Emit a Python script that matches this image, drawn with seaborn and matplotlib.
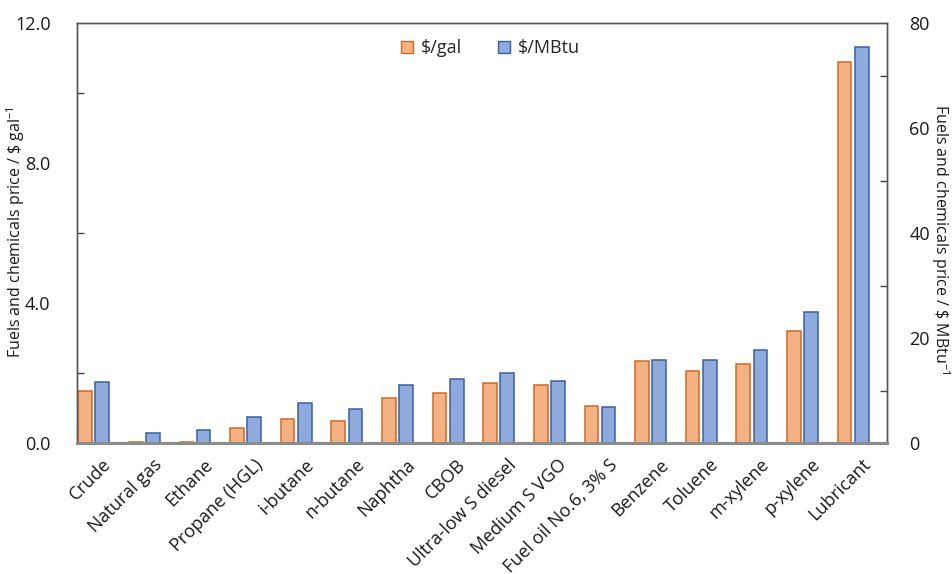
import numpy as np
import pandas as pd
import matplotlib
matplotlib.use("Agg")
import matplotlib.pyplot as plt
from matplotlib.patches import Patch
from matplotlib.ticker import MultipleLocator, FixedLocator
import seaborn as sns

# Product categories and their prices
categories = ["Crude", "Natural gas", "Ethane", "Propane (HGL)", "i-butane",
              "n-butane", "Naphtha", "CBOB", "Ultra-low S diesel",
              "Medium S VGO", "Fuel oil No.6, 3% S", "Benzene", "Toluene",
              "m-xylene", "p-xylene", "Lubricant"]
price_gal = [1.50, 0.03, 0.03, 0.43, 0.69, 0.62, 1.29, 1.43, 1.71, 1.67,
             1.07, 2.34, 2.06, 2.26, 3.20, 10.89]
price_mbtu = [11.6, 1.9, 2.5, 4.9, 7.6, 6.5, 11.0, 12.2, 13.3, 11.9,
              6.9, 15.9, 15.9, 17.7, 25.0, 75.4]
series_names = ["$/gal", "$/MBtu"]

sns.set_style("white")
plt.rcParams["font.family"] = ["Open Sans", "DejaVu Sans"]
plt.rcParams["mathtext.default"] = "regular"

ORANGE, ORANGE_EDGE = "#F4B183", "#D2691E"
BLUE, BLUE_EDGE = "#8FAADC", "#3A5FA6"
TEXT = "#1a1a1a"
BAR_W = 0.27
SHIFT = 0.34

idx = np.arange(len(categories))
df = pd.DataFrame({"category": categories, "pos": idx,
                   "gal": price_gal, "mbtu": price_mbtu})
df["pos_gal"] = df["pos"] - SHIFT

fig = plt.figure(figsize=(9.52, 5.74), dpi=100)
ax1 = fig.add_axes([77 / 952, 1 - 443 / 574, 810 / 952, 420 / 574])
ax2 = ax1.twinx()

sns.barplot(data=df, x="pos_gal", y="gal", native_scale=True, width=BAR_W,
            color=ORANGE, edgecolor=ORANGE_EDGE, linewidth=1.1,
            saturation=1, errorbar=None, ax=ax1)
sns.barplot(data=df, x="pos", y="mbtu", native_scale=True, width=BAR_W,
            color=BLUE, edgecolor=BLUE_EDGE, linewidth=1.1,
            saturation=1, errorbar=None, ax=ax2)

ax1.set_xlim(-0.5, len(categories) - 0.5)
ax1.set_ylim(0, 12)
ax2.set_ylim(0, 80)

# Left axis: labels every 4, inward marks halfway between
ax1.yaxis.set_major_locator(MultipleLocator(4))
ax1.yaxis.set_minor_locator(FixedLocator([2, 6, 10]))
ax1.set_yticklabels([f"{v:.1f}" for v in ax1.get_yticks()])
ax1.tick_params(axis="y", which="major", length=0, pad=19, labelsize=13,
                labelcolor=TEXT)
ax1.tick_params(axis="y", which="minor", direction="in", length=5,
                width=1, color="#444444", left=True)

# Right axis: labels every 20, inward marks between
ax2.yaxis.set_major_locator(MultipleLocator(20))
ax2.yaxis.set_minor_locator(FixedLocator([10, 30, 50, 70]))
ax2.tick_params(axis="y", which="major", length=0, pad=16, labelsize=13,
                labelcolor=TEXT)
ax2.tick_params(axis="y", which="minor", direction="in", length=5,
                width=1, color="#444444", right=True)

# Category axis
ax1.set_xticks(idx)
ax1.set_xticklabels(categories, rotation=45, ha="right",
                    rotation_mode="anchor")
ax1.tick_params(axis="x", length=0, pad=9, labelsize=13, labelcolor=TEXT)
ax2.tick_params(axis="x", length=0)

ax1.set_xlabel("")
ax2.set_xlabel("")
ax1.set_ylabel("Fuels and chemicals price / \\$ gal$^{-1}$", fontsize=11.5,
               color=TEXT, va="center")
ax1.yaxis.set_label_coords(-0.076, 0.502)
ax2.set_ylabel("Fuels and chemicals price / \\$ MBtu$^{-1}$", fontsize=11.5,
               rotation=270, color=TEXT, va="center")
ax2.yaxis.set_label_coords(1.066, 0.486)

for ax in (ax1, ax2):
    for side in ("left", "right", "top"):
        ax.spines[side].set_color("#555555")
        ax.spines[side].set_linewidth(1)
    ax.spines["bottom"].set_color("#8C8C8C")
    ax.spines["bottom"].set_linewidth(2.2)

handles = [Patch(facecolor=ORANGE, edgecolor=ORANGE_EDGE, linewidth=1),
           Patch(facecolor=BLUE, edgecolor=BLUE_EDGE, linewidth=1)]
ax2.legend(handles, series_names, loc="center", bbox_to_anchor=(0.51, 0.94),
           ncol=2, frameon=False, fontsize=13, handlelength=0.7,
           handleheight=0.7, handletextpad=0.4, columnspacing=2.0)

fig.savefig("out.png", dpi=100)
